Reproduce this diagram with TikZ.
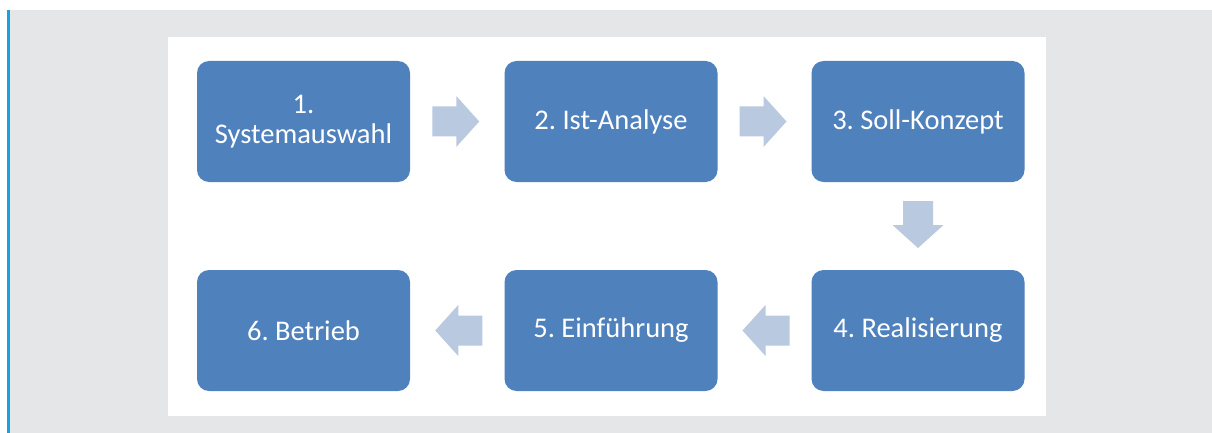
\documentclass[tikz,border=0pt]{standalone}
\usepackage{fontspec}
\setmainfont{Carlito}
\usetikzlibrary{calc}
\frenchspacing
\definecolor{boxblue}{HTML}{4F81BD}
\definecolor{arrowblue}{HTML}{B9C9E0}
\definecolor{pagegray}{HTML}{E5E6E8}
\definecolor{sidebar}{HTML}{12A5E2}
\tikzset{
  stepbox/.style={rectangle, rounded corners=12pt, fill=boxblue, text=white,
    minimum width=213pt, minimum height=121pt, align=center,
    font=\fontsize{28.5}{30}\selectfont},
  blockarrow/.pic={
    \fill[arrowblue] (-23.5,-15) -- (0.5,-15) -- (0.5,-25.5) -- (23.5,0)
      -- (0.5,25.5) -- (0.5,15) -- (-23.5,15) -- cycle;
  }
}
\begin{document}
\begin{tikzpicture}[x=1pt,y=-1pt]
  % page, grey frame, side rule and white panel
  \useasboundingbox (0,0) rectangle (1212,433);
  \fill[white] (0,0) rectangle (1212,433);
  \fill[pagegray] (10,10) rectangle (1212,433);
  \fill[sidebar] (7,10) rectangle (10,433);
  \fill[white] (168,37) rectangle (1046,416);

  % process steps
  \node[stepbox] (s1) at (303.5,121.5) {1.\\Systemauswahl};
  \node[stepbox] (s2) at (611,121.5) {2. Ist-Analyse};
  \node[stepbox] (s3) at (918,121.5) {3. Soll-Konzept};
  \node[stepbox] (s4) at (918,330.5) {4. Realisierung};
  \node[stepbox] (s5) at (611,330.5) {5. Einführung};
  \node[stepbox] (s6) at (303.5,330.5) {6. Betrieb};

  % block arrows between the steps
  \coordinate (a12) at ($(s1.east)!0.5!(s2.west)$);
  \coordinate (a23) at ($(s2.east)!0.5!(s3.west)$);
  \coordinate (a34) at ($(s3.south)!0.5!(s4.north)$);
  \coordinate (a45) at ($(s4.west)!0.5!(s5.east)$);
  \coordinate (a56) at ($(s5.west)!0.5!(s6.east)$);
  \pic at ([xshift=-1.5pt]a12) {blockarrow};
  \pic at ([xshift=-1.5pt]a23) {blockarrow};
  \pic[rotate=-90] at ([yshift=1.5pt]a34) {blockarrow};
  \pic[rotate=180] at ([xshift=1.5pt]a45) {blockarrow};
  \pic[rotate=180] at ([xshift=1.5pt]a56) {blockarrow};
\end{tikzpicture}
\end{document}
